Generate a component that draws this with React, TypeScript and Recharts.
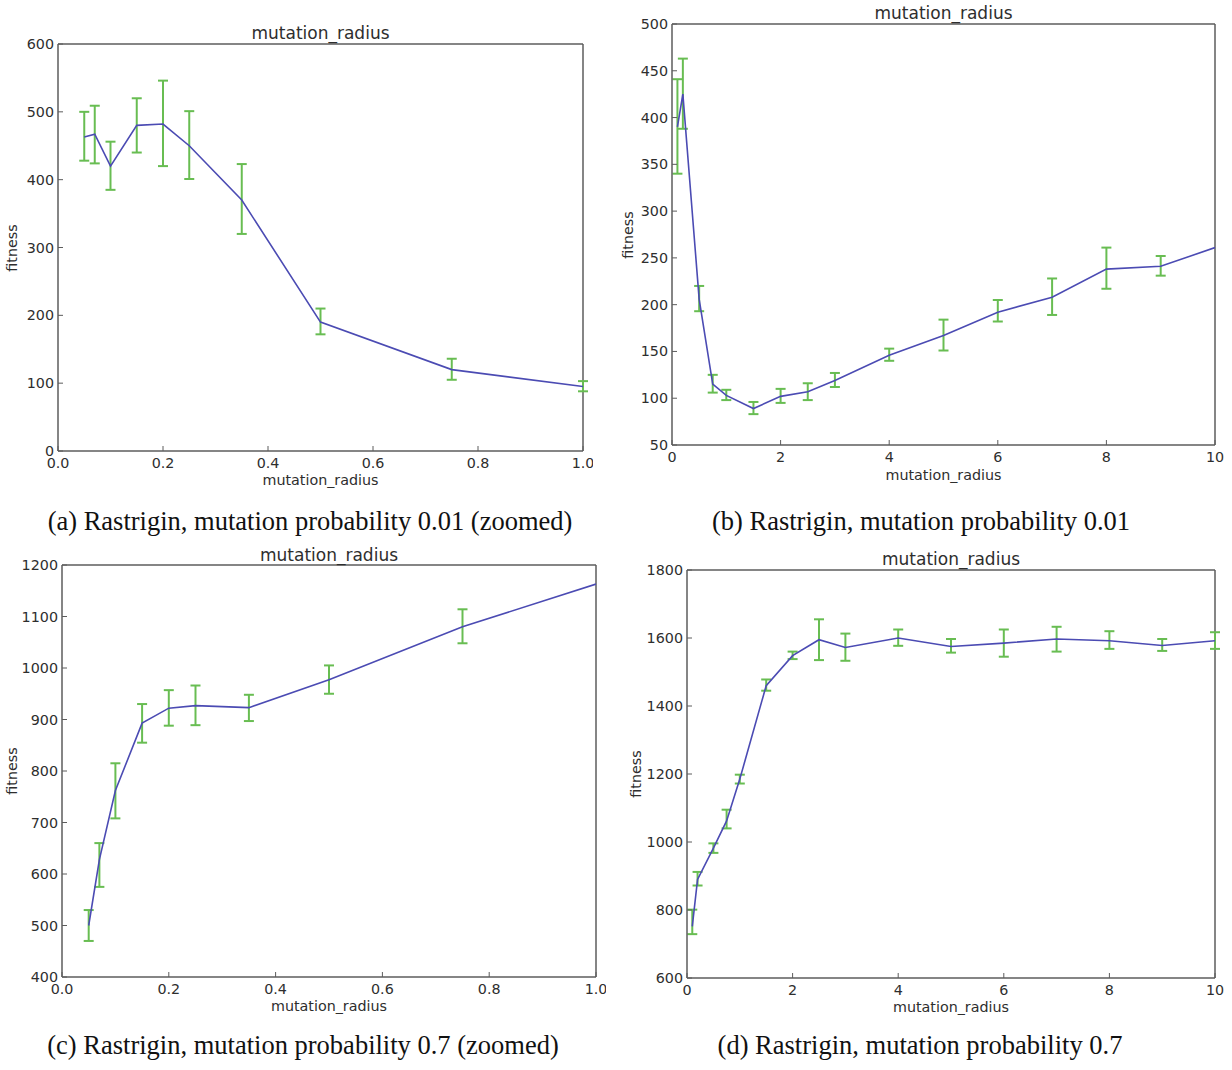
import { ErrorBar, Line, LineChart, ReferenceLine, XAxis, YAxis } from "recharts";

// Panel (a): mutation probability 0.01, zoomed into radius 0..1
const aRadius = [0.05, 0.07, 0.1, 0.15, 0.2, 0.25, 0.35, 0.5, 0.75, 1.0];
const aFitness = [463, 467, 420, 480, 482, 450, 370, 190, 120, 95];
const aLow = [428, 424, 385, 440, 420, 401, 320, 172, 105, 88];
const aHigh = [500, 509, 456, 520, 546, 501, 423, 210, 136, 103];

// Panel (b): mutation probability 0.01, radius 0..10
const bRadius = [0.1, 0.2, 0.5, 0.75, 1, 1.5, 2, 2.5, 3, 4, 5, 6, 7, 8, 9, 10];
const bFitness = [390, 425, 206, 115, 103, 89, 102, 107, 119, 146, 167, 192, 208, 238, 241, 261];
const bLow = [340, 388, 193, 106, 98, 83, 95, 98, 112, 140, 151, 182, 189, 217, 231, null];
const bHigh = [441, 463, 220, 125, 109, 96, 110, 116, 127, 153, 184, 205, 228, 261, 252, null];

// Panel (c): mutation probability 0.7, zoomed
const cRadius = [0.05, 0.07, 0.1, 0.15, 0.2, 0.25, 0.35, 0.5, 0.75, 1.0];
const cFitness = [500, 628, 762, 893, 922, 927, 923, 977, 1080, 1163];
const cLow = [470, 575, 708, 855, 888, 889, 897, 950, 1048, null];
const cHigh = [530, 660, 815, 930, 957, 966, 948, 1005, 1114, null];

// Panel (d): mutation probability 0.7, radius 0..10
const dRadius = [0.1, 0.2, 0.5, 0.75, 1, 1.5, 2, 2.5, 3, 4, 5, 6, 7, 8, 9, 10];
const dFitness = [752, 890, 982, 1062, 1185, 1460, 1548, 1595, 1572, 1600, 1575, 1585, 1597, 1592, 1578, 1592];
const dLow = [729, 872, 968, 1040, 1172, 1445, 1538, 1535, 1533, 1577, 1557, 1545, 1560, 1568, 1562, 1568];
const dHigh = [801, 912, 996, 1095, 1198, 1478, 1560, 1655, 1613, 1625, 1597, 1625, 1633, 1620, 1597, 1617];

const zoomedTicks = [0, 0.2, 0.4, 0.6, 0.8, 1.0];
const wideTicks = [0, 2, 4, 6, 8, 10];
const aYTicks = [0, 100, 200, 300, 400, 500, 600];
const bYTicks = [50, 100, 150, 200, 250, 300, 350, 400, 450, 500];
const cYTicks = [400, 500, 600, 700, 800, 900, 1000, 1100, 1200];
const dYTicks = [600, 800, 1000, 1200, 1400, 1600, 1800];

const captions = [
  "(a) Rastrigin, mutation probability 0.01 (zoomed)",
  "(b) Rastrigin, mutation probability 0.01",
  "(c) Rastrigin, mutation probability 0.7 (zoomed)",
  "(d) Rastrigin, mutation probability 0.7",
];

const AXIS = "#5c5c5c";
const TEXT = "#2e2e2e";
const LINE = "#4b4bb3";
const ERR = "#68bd52";
const SANS = "'DejaVu Sans', sans-serif";
const SERIF = "'Liberation Serif', 'Times New Roman', serif";

type Point = { r: number; fitness: number; err?: [number, number] };

function buildData(rs: number[], ys: number[], lo: (number | null)[], hi: (number | null)[]): Point[] {
  return rs.map((r, i) => {
    const l = lo[i];
    const h = hi[i];
    return {
      r,
      fitness: ys[i],
      err: l == null || h == null ? undefined : [ys[i] - l, h - ys[i]],
    };
  });
}

const fmt1 = (v: number) => v.toFixed(1);
const fmt0 = (v: number) => String(v);

// matplotlib-ish inward ticks, labels drawn by hand
function tickBottom(fmt: (v: number) => string) {
  return (p: any) => (
    <g>
      <line x1={p.x} x2={p.x} y1={p.y} y2={p.y - 5} stroke={AXIS} />
      <text x={p.x} y={p.y + 12} textAnchor="middle" dominantBaseline="central" fontSize={14.3} fill={TEXT} fontFamily={SANS}>
        {fmt(p.payload.value)}
      </text>
    </g>
  );
}
function tickLeft(p: any) {
  return (
    <g>
      <line x1={p.x} x2={p.x + 5} y1={p.y} y2={p.y} stroke={AXIS} />
      <text x={p.x - 4} y={p.y} textAnchor="end" dominantBaseline="central" fontSize={14.3} fill={TEXT} fontFamily={SANS}>
        {p.payload.value}
      </text>
    </g>
  );
}

type PanelProps = {
  data: Point[];
  box: { l: number; t: number; r: number; b: number };
  xDomain: [number, number];
  xTicks: number[];
  xFmt: (v: number) => string;
  yTicks: number[];
  titleY: number;
  xLabelY: number;
  yLabelX: number;
};

function Txt({ x, y, size, children, rotate, family }: any) {
  return (
    <div
      style={{
        position: "absolute",
        left: x,
        top: y,
        transform: `translate(-50%, -50%)${rotate ? " rotate(-90deg)" : ""}`,
        fontSize: size,
        fontFamily: family ?? SANS,
        color: family ? "#111" : TEXT,
        whiteSpace: "nowrap",
        lineHeight: 1,
      }}
    >
      {children}
    </div>
  );
}

function Panel({ data, box, xDomain, xTicks, xFmt, yTicks, titleY, xLabelY, yLabelX }: PanelProps) {
  const w = box.r - box.l;
  const h = box.b - box.t;
  const yDomain: [number, number] = [yTicks[0], yTicks[yTicks.length - 1]];
  return (
    <>
      <div style={{ position: "absolute", left: box.l - 60, top: box.t - 10 }}>
        <LineChart width={w + 70} height={h + 40} data={data} margin={{ top: 10, right: 10, bottom: 0, left: 0 }}>
          <XAxis
            dataKey="r"
            type="number"
            domain={xDomain}
            ticks={xTicks}
            allowDataOverflow
            height={30}
            tickSize={0}
            tickMargin={0}
            tickLine={false}
            axisLine={{ stroke: AXIS, strokeWidth: 1.5 }}
            tick={tickBottom(xFmt)}
          />
          <YAxis
            type="number"
            domain={yDomain}
            ticks={yTicks}
            allowDataOverflow
            width={60}
            tickSize={0}
            tickMargin={0}
            tickLine={false}
            axisLine={{ stroke: AXIS, strokeWidth: 1.5 }}
            tick={tickLeft}
          />
          {/* top and right spines of the matplotlib box */}
          <ReferenceLine y={yDomain[1]} stroke={AXIS} strokeWidth={1.5} ifOverflow="visible" />
          <ReferenceLine x={xDomain[1]} stroke={AXIS} strokeWidth={1.5} ifOverflow="visible" />
          <Line type="linear" dataKey="fitness" stroke={LINE} strokeWidth={1.6} dot={false} isAnimationActive={false}>
            <ErrorBar dataKey="err" direction="y" width={5} stroke={ERR} strokeWidth={2} isAnimationActive={false} />
          </Line>
        </LineChart>
      </div>
      <Txt x={(box.l + box.r) / 2} y={titleY} size={17}>mutation_radius</Txt>
      <Txt x={(box.l + box.r) / 2} y={xLabelY} size={14.3}>mutation_radius</Txt>
      <Txt x={yLabelX} y={(box.t + box.b) / 2} size={14.3} rotate>fitness</Txt>
    </>
  );
}

export default function App() {
  return (
    <div style={{ position: "absolute", left: 0, top: 0, width: 1232, height: 1070, background: "#fff", overflow: "hidden" }}>
      <Panel
        data={buildData(aRadius, aFitness, aLow, aHigh)}
        box={{ l: 58, t: 44, r: 583, b: 451 }}
        xDomain={[0, 1]}
        xTicks={zoomedTicks}
        xFmt={fmt1}
        yTicks={aYTicks}
        titleY={33}
        xLabelY={480}
        yLabelX={12}
      />
      <Panel
        data={buildData(bRadius, bFitness, bLow, bHigh)}
        box={{ l: 672, t: 24, r: 1215, b: 445 }}
        xDomain={[0, 10]}
        xTicks={wideTicks}
        xFmt={fmt0}
        yTicks={bYTicks}
        titleY={13}
        xLabelY={475}
        yLabelX={628}
      />
      <Panel
        data={buildData(cRadius, cFitness, cLow, cHigh)}
        box={{ l: 62, t: 565, r: 596, b: 977 }}
        xDomain={[0, 1]}
        xTicks={zoomedTicks}
        xFmt={fmt1}
        yTicks={cYTicks}
        titleY={555}
        xLabelY={1006}
        yLabelX={12}
      />
      <Panel
        data={buildData(dRadius, dFitness, dLow, dHigh)}
        box={{ l: 687, t: 570, r: 1215, b: 978 }}
        xDomain={[0, 10]}
        xTicks={wideTicks}
        xFmt={fmt0}
        yTicks={dYTicks}
        titleY={559}
        xLabelY={1007}
        yLabelX={636}
      />
      <Txt x={310} y={521} size={26.5} family={SERIF}>{captions[0]}</Txt>
      <Txt x={921} y={521} size={26.5} family={SERIF}>{captions[1]}</Txt>
      <Txt x={303} y={1045} size={26.5} family={SERIF}>{captions[2]}</Txt>
      <Txt x={920} y={1045} size={26.5} family={SERIF}>{captions[3]}</Txt>
    </div>
  );
}
